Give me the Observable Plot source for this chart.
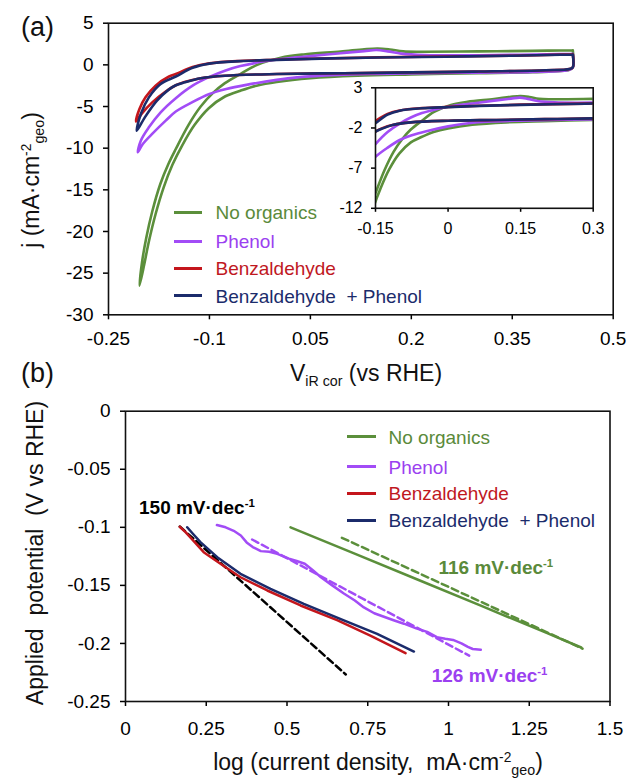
<!DOCTYPE html>
<html><head><meta charset="utf-8">
<script src="https://cdn.jsdelivr.net/npm/d3@7"></script>
<script src="https://cdn.jsdelivr.net/npm/@observablehq/plot@0.6"></script>
<style>
html,body{margin:0;padding:0;background:#fff;}
#root{position:relative;width:628px;height:778px;overflow:hidden;font-family:"Liberation Sans",Arial,sans-serif;}
#root svg{position:absolute;}
</style></head><body><div id="root"></div>
<script>
// ---------- shared ----------
const seriesNames = ["No organics", "Phenol", "Benzaldehyde", "Benzaldehyde\u00a0 + Phenol"];
const lineColors = ["#5b8f3b", "#a24cf6", "#c4161c", "#1b2b6b"];
const textColors = ["#5a8a3a", "#9b40f0", "#c0181f", "#1b2c6b"];

// ---------- panel (a): cyclic voltammograms, [V, j] ----------
const aXTicks = [-0.25, -0.1, 0.05, 0.2, 0.35, 0.5];
const aYTicks = [5, 0, -5, -10, -15, -20, -25, -30];
const insetXTicks = [-0.15, 0, 0.15, 0.3];
const insetYTicks = [3, -2, -7, -12];

const cvNoOrgUpper = [[-0.204,-26.5],[-0.2,-23.6],[-0.194,-20.8],[-0.185,-17.6],[-0.173,-14.3],[-0.161,-11.9],[-0.15,-10.1],[-0.131,-7.2],[-0.113,-5.0],[-0.095,-3.4],[-0.077,-2.2],[-0.054,-1.1],[-0.029,0.0],[0.006,0.85],[0.04,1.25],[0.095,1.6],[0.13,1.88],[0.15,1.97],[0.168,1.85],[0.188,1.62],[0.22,1.58],[0.3,1.62],[0.38,1.68],[0.44,1.75]];
const cvNoOrgLower = [[-0.204,-26.5],[-0.197,-24.0],[-0.19,-21.2],[-0.18,-17.9],[-0.168,-14.7],[-0.155,-12.0],[-0.14,-9.6],[-0.122,-7.2],[-0.101,-5.2],[-0.077,-3.8],[-0.054,-3.1],[-0.03,-2.5],[0.0,-2.05],[0.05,-1.6],[0.12,-1.3],[0.2,-1.15],[0.3,-1.0],[0.38,-0.88],[0.435,-0.6],[0.44,-0.3]];

const cvPhenolUpper = [[-0.2064,-10.5],[-0.202,-9.1],[-0.19,-7.5],[-0.1725,-5.7],[-0.15,-4.0],[-0.125,-2.5],[-0.1,-1.45],[-0.077,-0.7],[-0.054,-0.15],[-0.02,0.4],[0.006,0.7],[0.05,1.05],[0.095,1.4],[0.13,1.65],[0.148,1.78],[0.165,1.62],[0.185,1.35],[0.22,1.18],[0.3,1.15],[0.44,1.32]];
const cvPhenolLower = [[-0.2064,-10.5],[-0.199,-9.5],[-0.184,-8.2],[-0.165,-6.7],[-0.15,-5.6],[-0.126,-4.5],[-0.1,-3.5],[-0.075,-2.9],[-0.045,-2.4],[0.0,-1.8],[0.03,-1.5],[0.09,-1.2],[0.15,-1.08],[0.22,-1.0],[0.3,-0.93],[0.38,-0.85],[0.435,-0.6],[0.44,-0.3]];

const cvBenzUpper = [[-0.209,-6.8],[-0.204,-5.3],[-0.195,-3.9],[-0.18,-2.5],[-0.16,-1.4],[-0.15,-1.1],[-0.125,-0.25],[-0.1,0.18],[-0.054,0.47],[0.0,0.62],[0.065,0.76],[0.15,0.9],[0.25,1.0],[0.35,1.1],[0.44,1.27]];
const cvBenzLower = [[-0.209,-6.8],[-0.2,-5.8],[-0.185,-4.5],[-0.165,-3.2],[-0.15,-2.45],[-0.137,-2.05],[-0.113,-1.6],[-0.077,-1.3],[0.0,-1.1],[0.1,-1.0],[0.2,-0.9],[0.3,-0.8],[0.4,-0.65],[0.435,-0.5],[0.44,-0.3]];

const cvBothUpper = [[-0.208,-7.9],[-0.202,-5.9],[-0.19,-3.9],[-0.1725,-2.3],[-0.15,-1.4],[-0.125,-0.35],[-0.1,0.15],[-0.054,0.45],[0.0,0.6],[0.065,0.75],[0.15,0.88],[0.25,0.98],[0.35,1.1],[0.44,1.25]];
const cvBothLower = [[-0.208,-7.9],[-0.196,-6.3],[-0.178,-4.3],[-0.161,-3.0],[-0.15,-2.45],[-0.137,-2.1],[-0.113,-1.6],[-0.077,-1.3],[0.0,-1.1],[0.1,-1.0],[0.2,-0.9],[0.3,-0.8],[0.4,-0.65],[0.435,-0.5],[0.44,-0.3]];

// ---------- panel (b): Tafel plots, [log j, E] ----------
const bXTicks = [0, 0.25, 0.5, 0.75, 1, 1.25, 1.5];
const bYTicks = [0, -0.05, -0.1, -0.15, -0.2, -0.25];
const tafelNoOrg = [[0.511,-0.100],[0.7,-0.1215],[0.9,-0.1445],[1.1,-0.1675],[1.3,-0.1905],[1.411,-0.2035]];
const fitNoOrg = [[0.67,-0.109],[1.415,-0.2045]];
const tafelPhenol = [[0.283,-0.098],[0.31,-0.1],[0.335,-0.103],[0.357,-0.107],[0.375,-0.113],[0.394,-0.117],[0.419,-0.1205],[0.445,-0.121],[0.47,-0.1228],[0.506,-0.127],[0.53,-0.129],[0.555,-0.1314],[0.58,-0.137],[0.605,-0.143],[0.64,-0.150],[0.676,-0.157],[0.71,-0.163],[0.738,-0.169],[0.77,-0.174],[0.8,-0.177],[0.83,-0.180],[0.862,-0.183],[0.9,-0.187],[0.934,-0.190],[0.964,-0.1946],[0.99,-0.196],[1.014,-0.197],[1.04,-0.200],[1.06,-0.203],[1.075,-0.2048],[1.1,-0.2055]];
const fitPhenol = [[0.392,-0.1105],[1.064,-0.2105]];
const tafelBenz = [[0.168,-0.0995],[0.185,-0.104],[0.205,-0.110],[0.242,-0.1214],[0.294,-0.1314],[0.356,-0.143],[0.439,-0.1544],[0.542,-0.1673],[0.655,-0.180],[0.758,-0.1932],[0.867,-0.2084]];
const tafelBoth = [[0.191,-0.0999],[0.21,-0.106],[0.232,-0.1128],[0.284,-0.1257],[0.356,-0.14],[0.449,-0.153],[0.552,-0.166],[0.676,-0.1802],[0.779,-0.1917],[0.893,-0.2070]];
const fitBenz = [[0.168,-0.0993],[0.682,-0.2267]];
const slopeLabels = ["150 mV·dec", "116 mV·dec", "126 mV·dec"];

// ---------- helpers ----------
const FONT = '"Liberation Sans", Arial, sans-serif';
const root = document.getElementById("root");
const fmt = d => String(+(+d).toFixed(3));
function loop(up, low, name) {
  const pts = [...up].reverse().concat(low.slice(1));
  pts.push(up[up.length - 1]);
  return pts.map(([V, j]) => ({V, j, series: name}));
}
const toXY = (arr) => arr.map(([x, y]) => ({x, y}));
function put(svg, left, top) { svg.style.left = left + "px"; svg.style.top = top + "px"; root.appendChild(svg); }
function txt(html, x, y, o = {}) {
  const d = document.createElement("div");
  d.innerHTML = html;
  const ax = o.anchor === "start" ? "0%" : "-50%";
  d.style.cssText = `position:absolute;left:${x}px;top:${y}px;white-space:nowrap;line-height:1;font-size:${o.size || 19}px;color:${o.color || "#111"};font-weight:${o.weight || "normal"};transform:translate(${ax},-50%)${o.rotate ? ` rotate(${o.rotate}deg)` : ""};`;
  root.appendChild(d);
}
function swatch(x1, x2, y, color) {
  const d = document.createElement("div");
  d.style.cssText = `position:absolute;left:${x1}px;top:${y - 1.5}px;width:${x2 - x1}px;height:3px;background:${color};`;
  root.appendChild(d);
}
const SUP = s => `<span style="font-size:0.6em;position:relative;top:-0.6em">${s}</span>`;
const SUB = s => `<span style="font-size:0.62em;position:relative;top:0.35em">${s}</span>`;

const cvSets = [
  loop(cvNoOrgUpper, cvNoOrgLower, seriesNames[0]),
  loop(cvPhenolUpper, cvPhenolLower, seriesNames[1]),
  loop(cvBenzUpper, cvBenzLower, seriesNames[2]),
  loop(cvBothUpper, cvBothLower, seriesNames[3])
];
const cvMarks = (clip) => cvSets.map((data, i) =>
  Plot.line(data, {x: "V", y: "j", stroke: lineColors[i], strokeWidth: 2.6, curve: "catmull-rom", clip}));

// ---------- panel (a) main ----------
const plotA = Plot.plot({
  width: 628, height: 395,
  marginLeft: 108, marginRight: 15.3, marginTop: 22.7, marginBottom: 80.7,
  style: {fontFamily: FONT, fontSize: "19px", color: "#000", background: "transparent", overflow: "visible"},
  x: {domain: [-0.25, 0.5]},
  y: {domain: [-30, 5]},
  marks: [
    Plot.axisX({ticks: aXTicks, tickSize: 5, tickPadding: 12, tickFormat: fmt, label: null, fontSize: 19, strokeWidth: 1.5}),
    Plot.axisY({ticks: aYTicks, tickSize: 5, tickPadding: 10, tickFormat: fmt, label: null, fontSize: 19, strokeWidth: 1.5}),
    Plot.frame({stroke: "#111", strokeWidth: 1.6}),
    ...cvMarks(false)
  ]
});
put(plotA, 0, 0);

// ---------- inset ----------
const inset = Plot.plot({
  width: 280, height: 165,
  marginLeft: 45, marginRight: 17.3, marginTop: 9.3, marginBottom: 35.2,
  style: {fontFamily: FONT, fontSize: "16px", color: "#000", background: "transparent", overflow: "visible"},
  x: {domain: [-0.15, 0.3]},
  y: {domain: [-12, 3]},
  marks: [
    Plot.frame({fill: "white", stroke: "none"}),
    Plot.axisX({ticks: insetXTicks, tickSize: 4, tickPadding: 10, tickFormat: fmt, label: null, fontSize: 16, strokeWidth: 1.5}),
    Plot.axisY({ticks: insetYTicks, tickSize: 4, tickPadding: 9, tickFormat: fmt, label: null, fontSize: 16, strokeWidth: 1.5}),
    ...cvMarks(true),
    Plot.frame({stroke: "#111", strokeWidth: 1.6})
  ]
});
put(inset, 330, 78);

// ---------- panel (b) ----------
const plotB = Plot.plot({
  width: 628, height: 383,
  marginLeft: 125, marginRight: 18.5, marginTop: 15.7, marginBottom: 77,
  style: {fontFamily: FONT, fontSize: "19px", color: "#000", background: "transparent", overflow: "visible"},
  x: {domain: [0, 1.5]},
  y: {domain: [-0.25, 0]},
  marks: [
    Plot.axisX({ticks: bXTicks, tickSize: 5, tickPadding: 15, tickFormat: fmt, label: null, fontSize: 19, strokeWidth: 1.5}),
    Plot.axisY({ticks: bYTicks, tickSize: 5, tickPadding: 10, tickFormat: fmt, label: null, fontSize: 19, strokeWidth: 1.5}),
    Plot.frame({stroke: "#111", strokeWidth: 1.6}),
    Plot.line(toXY(fitBenz), {x: "x", y: "y", stroke: "#000", strokeWidth: 2.5, strokeDasharray: "7,4"}),
    Plot.line(toXY(tafelNoOrg), {x: "x", y: "y", stroke: lineColors[0], strokeWidth: 2.5}),
    Plot.line(toXY(fitNoOrg), {x: "x", y: "y", stroke: lineColors[0], strokeWidth: 2.5, strokeDasharray: "7,4"}),
    Plot.line(toXY(tafelPhenol), {x: "x", y: "y", stroke: lineColors[1], strokeWidth: 2.5}),
    Plot.line(toXY(fitPhenol), {x: "x", y: "y", stroke: lineColors[1], strokeWidth: 2.5, strokeDasharray: "7,4"}),
    Plot.line(toXY(tafelBenz), {x: "x", y: "y", stroke: lineColors[2], strokeWidth: 2.5}),
    Plot.line(toXY(tafelBoth), {x: "x", y: "y", stroke: lineColors[3], strokeWidth: 2.5})
  ]
});
put(plotB, 0, 395);

// ---------- texts ----------
txt("(a)", 21, 27, {anchor: "start", size: 27});
txt("(b)", 21, 373, {anchor: "start", size: 27});
txt(`V${SUB("iR cor")} (vs RHE)`, 366, 373, {size: 23});
txt(`j (mA·cm${SUP("-2")}${SUB("geo")})`, 31, 180, {size: 23, rotate: -90});
txt("Applied&nbsp; potential&nbsp; (V vs RHE)", 35, 553, {size: 23, rotate: -90});
txt(`log (current density,&nbsp; mA·cm${SUP("-2")}${SUB("geo")})`, 378, 762, {size: 23});

// legends
const legA = [212.3, 241, 268.3, 295.7];
const legB = [436.7, 466.7, 493.3, 520];
seriesNames.forEach((name, i) => {
  swatch(174, 202, legA[i], lineColors[i]);
  txt(name, 215.5, legA[i], {anchor: "start", size: 19, color: textColors[i]});
  swatch(347, 376, legB[i], lineColors[i]);
  txt(name, 388.5, legB[i], {anchor: "start", size: 19, color: textColors[i]});
});

// slope annotations
txt(slopeLabels[0] + SUP("-1"), 139, 507, {anchor: "start", size: 19, weight: "bold", color: "#000"});
txt(slopeLabels[1] + SUP("-1"), 438.5, 566.7, {anchor: "start", size: 19, weight: "bold", color: textColors[0]});
txt(slopeLabels[2] + SUP("-1"), 431.7, 675, {anchor: "start", size: 19, weight: "bold", color: textColors[1]});
</script></body></html>
